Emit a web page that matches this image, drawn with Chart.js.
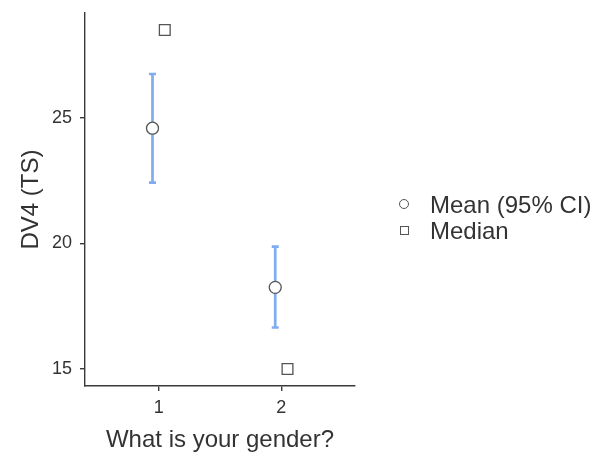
<!DOCTYPE html>
<html>
<head>
<meta charset="utf-8">
<script src="https://cdn.jsdelivr.net/npm/chart.js@4/dist/chart.umd.min.js"></script>
<style>
  html, body { margin: 0; padding: 0; background: #fff; }
  #wrap { position: relative; width: 595px; height: 459px; }
  #chart { position: absolute; left: 0; top: 0; }
  .legend { position: absolute; left: 396px; top: 192px; font-family: "Liberation Sans", Arial, sans-serif; font-size: 24px; color: #333; }
  .legend .row { position: relative; height: 26px; line-height: 26px; padding-left: 34px; white-space: nowrap; }
  .legend .mk { position: absolute; box-sizing: border-box; border: 1.2px solid #555; background: #fff; }
  .legend .circ { left: 3px; top: 7px; width: 10px; height: 10px; border-radius: 50%; }
  .legend .sq { left: 4px; top: 8px; width: 9px; height: 9px; }
</style>
</head>
<body>
<div id="wrap">
  <canvas id="chart" width="595" height="459"></canvas>
  <div class="legend">
    <div class="row"><span class="mk circ"></span>Mean (95% CI)</div>
    <div class="row"><span class="mk sq"></span>Median</div>
  </div>
</div>
<script>
// Groups of "What is your gender?" and the DV4 (TS) summaries per group
const categories = ['1', '2'];
const meanValues = [24.59, 18.25];
const ciLower = [22.42, 16.65];
const ciUpper = [26.75, 19.87];
const medianValues = [28.5, 15.0];
const yTicks = [15, 20, 25];

// mean and median are dodged a little to each side of the group position
const dodge = 0.05;
const catPos = categories.map((c, i) => i + 1);

const FONT = '"Liberation Sans", Arial, sans-serif';
const TEXT = '#333';
const AXIS = '#3a3a3a';

// vertical 95% CI whiskers, drawn under the mean points
const errorBars = {
  id: 'errorBars',
  beforeDatasetsDraw(chart) {
    const { ctx, scales: { x, y } } = chart;
    ctx.save();
    ctx.strokeStyle = '#80acf2';
    ctx.lineWidth = 2.7;
    ctx.lineCap = 'butt';
    catPos.forEach((p, i) => {
      const px = x.getPixelForValue(p - dodge);
      const top = y.getPixelForValue(ciUpper[i]);
      const bot = y.getPixelForValue(ciLower[i]);
      const cap = 3.5;
      ctx.beginPath();
      ctx.moveTo(px, top);
      ctx.lineTo(px, bot);
      ctx.moveTo(px - cap, top);
      ctx.lineTo(px + cap, top);
      ctx.moveTo(px - cap, bot);
      ctx.lineTo(px + cap, bot);
      ctx.stroke();
    });
    ctx.restore();
  }
};

new Chart(document.getElementById('chart'), {
  type: 'scatter',
  data: {
    datasets: [
      {
        label: 'Mean (95% CI)',
        data: meanValues.map((v, i) => ({ x: catPos[i] - dodge, y: v })),
        pointStyle: 'circle',
        pointRadius: 6,
        backgroundColor: '#fff',
        borderColor: '#555',
        borderWidth: 1.3
      },
      {
        label: 'Median',
        data: medianValues.map((v, i) => ({ x: catPos[i] + dodge, y: v })),
        pointStyle: 'rect',
        pointRadius: 7.6,
        backgroundColor: '#fff',
        borderColor: '#555',
        borderWidth: 1.3
      }
    ]
  },
  options: {
    responsive: false,
    animation: false,
    events: [],
    layout: { padding: { left: 0, top: 13, right: 240, bottom: 0 } },
    plugins: { legend: { display: false }, tooltip: { enabled: false } },
    scales: {
      x: {
        type: 'linear',
        min: 0.4,
        max: 2.6,
        afterBuildTicks(scale) { scale.ticks = catPos.map(v => ({ value: v })); },
        afterFit(scale) { scale.height = 73; scale.paddingLeft = 0; scale.paddingRight = 0; },
        ticks: {
          callback: (v) => categories[catPos.indexOf(v)] ?? '',
          font: { family: FONT, size: 18 },
          color: TEXT,
          padding: 6,
          maxRotation: 0
        },
        grid: { display: true, drawOnChartArea: false, drawTicks: true, tickLength: 5, color: AXIS, lineWidth: 1.4 },
        border: { display: true, color: AXIS, width: 1.4 },
        title: {
          display: true,
          text: 'What is your gender?',
          font: { family: FONT, size: 24 },
          color: TEXT,
          padding: { top: 4, bottom: 4 }
        }
      },
      y: {
        type: 'linear',
        min: 14.32,
        max: 29.18,
        afterBuildTicks(scale) { scale.ticks = yTicks.map(v => ({ value: v })); },
        afterFit(scale) { scale.width = 85; scale.paddingTop = 0; scale.paddingBottom = 0; },
        ticks: {
          font: { family: FONT, size: 18 },
          color: TEXT,
          padding: 8
        },
        grid: { display: true, drawOnChartArea: false, drawTicks: true, tickLength: 5, color: AXIS, lineWidth: 1.4 },
        border: { display: true, color: AXIS, width: 1.4 },
        title: {
          display: true,
          text: 'DV4 (TS)',
          font: { family: FONT, size: 24 },
          color: TEXT,
          padding: { top: 17, bottom: 17 }
        }
      }
    }
  },
  plugins: [errorBars]
});
</script>
</body>
</html>
